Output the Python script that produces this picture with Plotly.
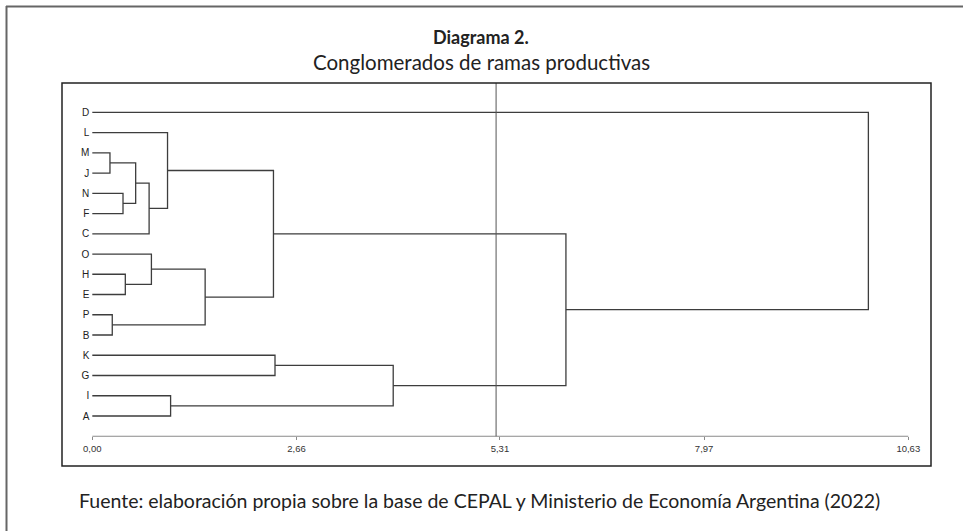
import plotly.graph_objects as go

# ---------------- data ----------------
leaves = ["D", "L", "M", "J", "N", "F", "C", "O", "H", "E", "P", "B", "K", "G", "I", "A"]
merge_left = ["M", "N", "P", "H", "n1", "n5", "O", "L", "I", "n7", "n8", "K", "n12", "n11", "D"]
merge_right = ["J", "F", "B", "E", "n2", "C", "n4", "n6", "A", "n3", "n10", "G", "n9", "n13", "n14"]
merge_height = [0.23, 0.40, 0.26, 0.43, 0.565, 0.74, 0.77, 0.98, 1.02, 1.47, 2.36, 2.38, 3.92, 6.17, 10.11]
tick_values = [0.00, 2.66, 5.31, 7.97, 10.63]
tick_labels = ["0,00", "2,66", "5,31", "7,97", "10,63"]
cut_value = 5.26

title = "<b>Diagrama 2.</b>"
subtitle = "Conglomerados de ramas productivas"
source = "Fuente: elaboración propia sobre la base de CEPAL y Ministerio de Economía Argentina (2022)"

# ---------------- geometry ----------------
W, H = 963, 531
ML, MR, MT, MB = 62, 32, 83, 65
PW, PH = W - ML - MR, H - MT - MB


def px_x(p):
    return (p - ML) / PW


def px_y(p):
    return (H - MB - p) / PH


# dendrogram coordinates
pos = {name: (0.0, float(i)) for i, name in enumerate(leaves)}
xs, ys = [], []
for k, (a, b, h) in enumerate(zip(merge_left, merge_right, merge_height), start=1):
    xa, ya = pos[a]
    xb, yb = pos[b]
    xs += [xa, h, h, xb, None]
    ys += [ya, ya, yb, yb, None]
    pos["n%d" % k] = (h, (ya + yb) / 2)

axis_row = len(leaves)

fig = go.Figure()
fig.add_trace(go.Scatter(x=xs, y=ys, mode="lines",
                         line=dict(color="#3d3d3d", width=1.3),
                         hoverinfo="skip", showlegend=False))
# axis baseline
fig.add_trace(go.Scatter(x=[tick_values[0], tick_values[-1]], y=[axis_row, axis_row], mode="lines",
                         line=dict(color="#8a8a8a", width=1),
                         hoverinfo="skip", showlegend=False))

# x scale: 0 at px 92.3, 10.63 at px 908.3
scale = (908.3 - 92.3) / 10.63
x0 = -(92.3 - ML) / scale
x1 = x0 + PW / scale
row = (416.0 - 112.3) / 15
y_top = -(112.3 - MT) / row
y_bot = (H - MB - 112.3) / row

fig.update_layout(
    width=W, height=H,
    margin=dict(l=ML, r=MR, t=MT, b=MB),
    paper_bgcolor="white", plot_bgcolor="white",
    font=dict(family="Liberation Sans, Arial, sans-serif", color="#222"),
    xaxis=dict(range=[x0, x1], tickvals=tick_values, ticktext=tick_labels,
               anchor="free", position=px_y(436.2), side="bottom",
               ticks="outside", ticklen=3, tickcolor="#8a8a8a", tickwidth=1,
               ticklabelstandoff=0,
               showline=False, showgrid=False, zeroline=False,
               tickfont=dict(size=9.5, color="#333")),
    yaxis=dict(range=[y_bot, y_top], tickvals=list(range(len(leaves))), ticktext=leaves,
               anchor="free", position=px_x(92.3), side="left",
               ticks="", showline=False, showgrid=False, zeroline=False,
               ticklabelstandoff=3,
               tickfont=dict(size=10, color="#222")),
)

# cut line
fig.add_shape(type="line", xref="x", yref="y", x0=cut_value, x1=cut_value, y0=y_top, y1=axis_row,
              line=dict(color="#555", width=1))
# inner box
fig.add_shape(type="rect", xref="paper", yref="paper", x0=0, x1=1, y0=0, y1=1,
              line=dict(color="#222", width=1.5))
# outer frame (top and left edges)
fig.add_shape(type="line", xref="paper", yref="paper", x0=px_x(6), x1=px_x(970), y0=px_y(6.5), y1=px_y(6.5),
              line=dict(color="#666", width=2))
fig.add_shape(type="line", xref="paper", yref="paper", x0=px_x(6.5), x1=px_x(6.5), y0=px_y(6), y1=px_y(540),
              line=dict(color="#666", width=2))

tfont = "Lato, Open Sans, sans-serif"
fig.add_annotation(text=title, xref="paper", yref="paper", x=px_x(481), y=px_y(37),
                   showarrow=False, xanchor="center", yanchor="middle",
                   font=dict(family=tfont, size=18, color="#222"))
fig.add_annotation(text=subtitle, xref="paper", yref="paper", x=px_x(481), y=px_y(62),
                   showarrow=False, xanchor="center", yanchor="middle",
                   font=dict(family=tfont, size=20.5, color="#222"))
fig.add_annotation(text=source, xref="paper", yref="paper", x=px_x(479), y=px_y(500),
                   showarrow=False, xanchor="center", yanchor="middle",
                   font=dict(family=tfont, size=19.5, color="#222"))

fig.write_html("out.html", config={"displayModeBar": False},
               post_script="document.body.style.margin='0';")
